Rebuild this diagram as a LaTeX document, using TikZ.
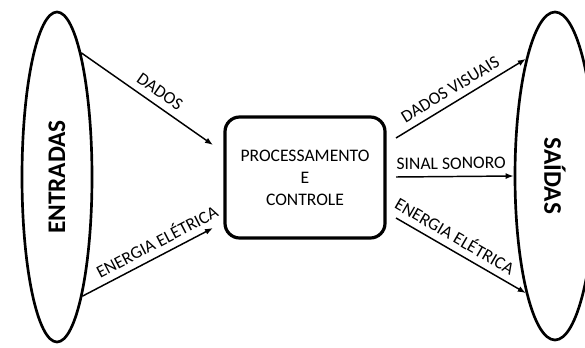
\documentclass[tikz,border=0pt]{standalone}
\usepackage{fontspec}
\setmainfont{Carlito}
\usetikzlibrary{arrows.meta,shapes.geometric}

\begin{document}
\begin{tikzpicture}[x=0.75pt, y=0.75pt, font=\fontsize{13.2}{16.5}\selectfont,
	lado/.style={draw, line width=2pt, ellipse, inner sep=0pt},
	fluxo/.style={-{Latex[length=6pt,width=4.5pt]}, line width=1.1pt},
	rotulo/.style={midway, sloped, above=5pt, inner sep=0pt}]
	\clip (0,0) rectangle (585,347);
	% entradas e saidas
	\node[lado, minimum width=52.5pt, minimum height=247.5pt] (ent) at (57,170) {};
	\node[rotate=90, font=\fontsize{19}{22}\selectfont\bfseries] at (ent) {ENTRADAS};
	\node[lado, minimum width=60pt, minimum height=246pt] (sai) at (555,171) {};
	\node[rotate=-90, font=\fontsize{19}{22}\selectfont\bfseries] at (sai) {SAÍDAS};
	% bloco central
	\node[draw, line width=2.4pt, rounded corners=11pt, minimum width=120pt, minimum height=90.75pt, align=center] (proc) at (305,169.5) {PROCESSAMENTO\\E\\CONTROLE};
	\coordinate (inA) at (213,202);
	\coordinate (inB) at (213,119);
	\coordinate (outA) at (396,209);
	\coordinate (outB) at (396,170);
	\coordinate (outC) at (396,129);
	% ligacoes
	\draw[fluxo] (ent.79) -- (inA) node[rotulo, pos=0.54] {DADOS};
	\draw[fluxo] (ent.-78) -- (inB) node[rotulo, pos=0.62] {ENERGIA ELÉTRICA};
	\draw[fluxo] (outA) -- (sai.104) node[rotulo, pos=0.47] {DADOS VISUAIS};
	\draw[fluxo] (outB) -- (sai.west) node[rotulo, pos=0.47] {SINAL SONORO};
	\draw[fluxo] (outC) -- (sai.-104) node[rotulo, pos=0.4] {ENERGIA ELÉTRICA};
\end{tikzpicture}
\end{document}
